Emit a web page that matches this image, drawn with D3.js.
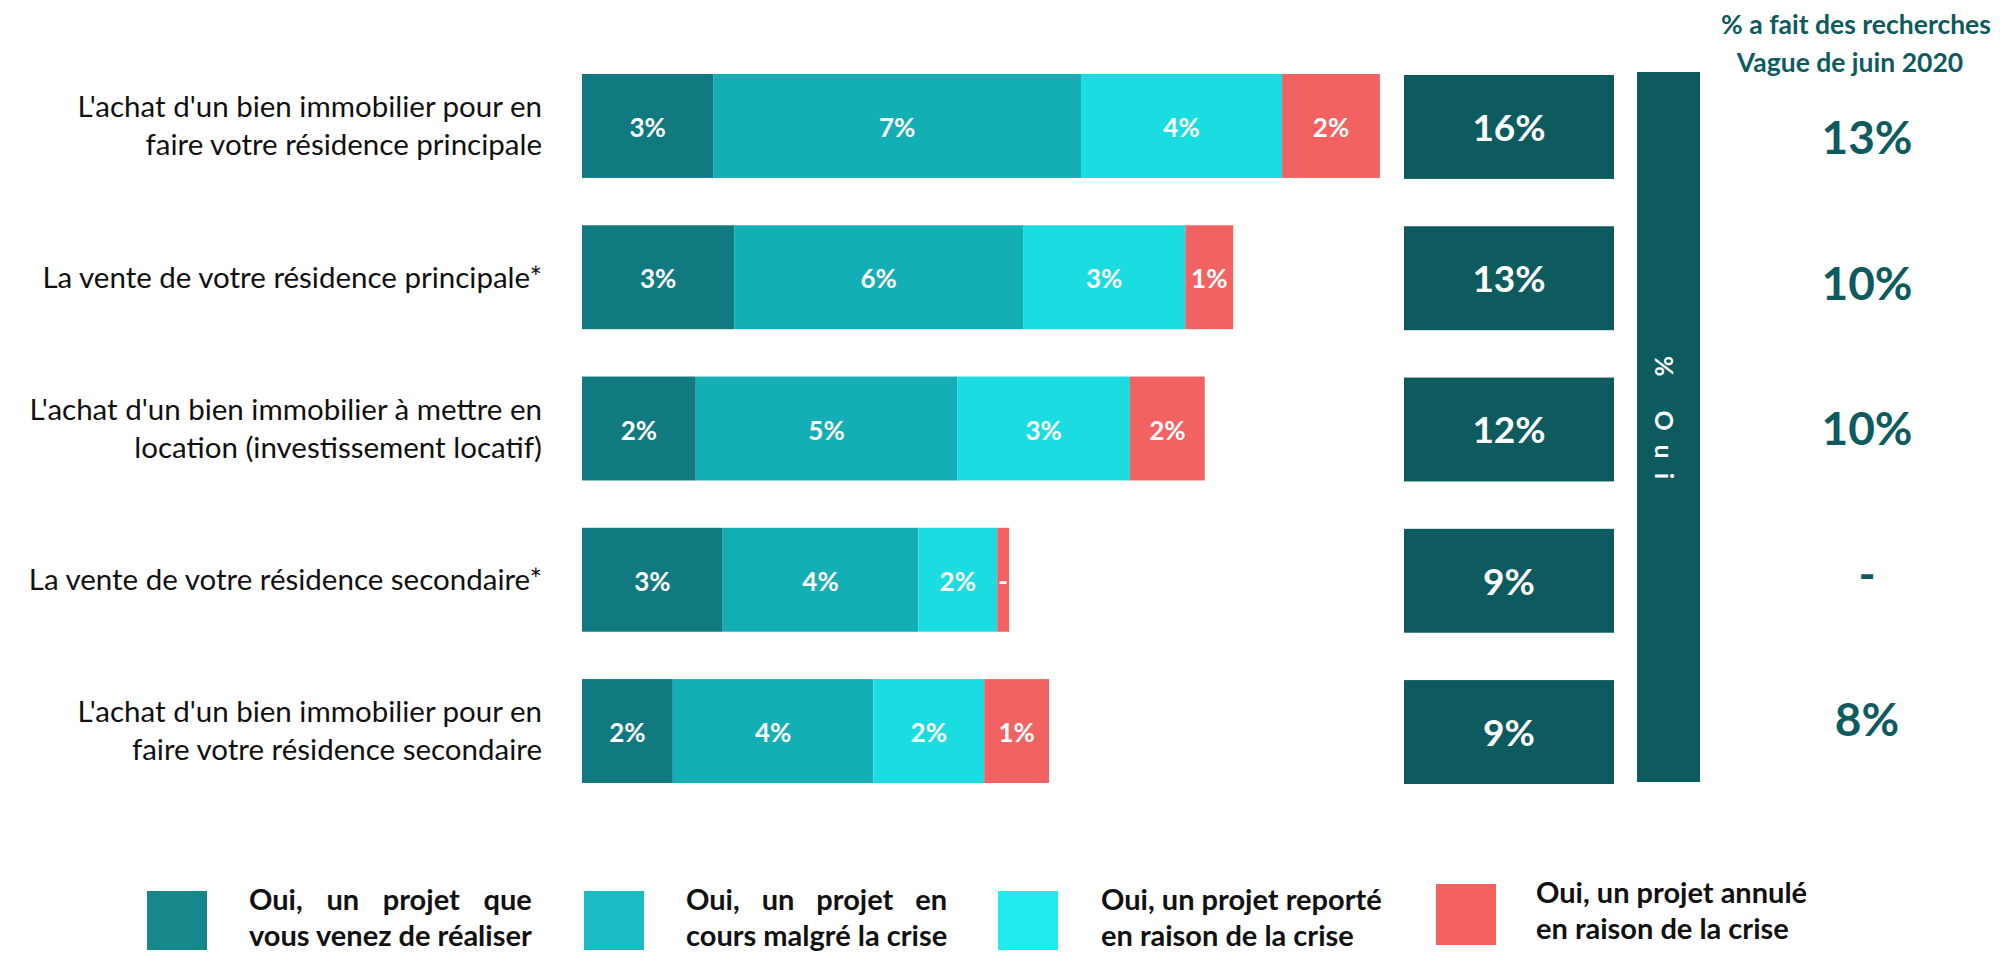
<html>
<head>
    <meta charset="utf-8">
    <style>
        body { margin: 0; background: #fff; }
        svg { display: block; font-family: Lato, "Open Sans", sans-serif; }
    </style>
    <script src="https://d3js.org/d3.v7.min.js"></script>
</head>
<body>
<svg id="chart"></svg>
<script>
    // --- data ---
    var categories = [
        "L'achat d'un bien immobilier pour en\nfaire votre résidence principale",
        "La vente de votre résidence principale*",
        "L'achat d'un bien immobilier à mettre en\nlocation (investissement locatif)",
        "La vente de votre résidence secondaire*",
        "L'achat d'un bien immobilier pour en\nfaire votre résidence secondaire"
    ];
    var seriesNames = [
        "Oui, un projet que\nvous venez de réaliser",
        "Oui, un projet en\ncours malgré la crise",
        "Oui, un projet reporté\nen raison de la crise",
        "Oui, un projet annulé\nen raison de la crise"
    ];
    var realise = [2.63, 3.05, 2.28, 2.82, 1.82];
    var enCours = [7.37, 5.79, 5.24, 3.92, 4.02];
    var reporte = [4.03, 3.25, 3.46, 1.58, 2.22];
    var annule  = [1.96, 0.96, 1.50, 0.24, 1.30];
    var totals  = [16, 13, 12, 9, 9];
    var juin2020 = [13, 10, 10, null, 8];

    var barColors = ["#107a80", "#14aeb5", "#1bdce0", "#f26262"];
    var legendColors = ["#16878a", "#1bbbc4", "#20ecef", "#f26060"];
    var dark = "#0d5b5e";

    var W = 2000, H = 955;
    var svg = d3.select("#chart").attr("width", W).attr("height", H);

    var y = d3.scaleBand()
        .domain(d3.range(categories.length))
        .range([74, 783])
        .paddingInner(0.313)
        .paddingOuter(0);

    var x = d3.scaleLinear()
        .domain([0, 16])
        .range([582, 582 + 16 * 49.9]);

    // stacked data
    var rows = categories.map(function (c, i) {
        return { i: i, realise: realise[i], enCours: enCours[i], reporte: reporte[i], annule: annule[i] };
    });
    var keys = ["realise", "enCours", "reporte", "annule"];
    var stack = d3.stack().keys(keys)(rows);

    // category labels
    var catG = svg.append("g");
    categories.forEach(function (c, i) {
        var lines = c.split("\n");
        var cy = y(i) + y.bandwidth() / 2;
        var t = catG.append("text")
            .attr("x", 542)
            .attr("text-anchor", "end")
            .attr("font-size", 29.5)
            .attr("fill", "#111");
        lines.forEach(function (l, k) {
            t.append("tspan")
                .attr("x", 542)
                .attr("y", cy + (k - (lines.length - 1) / 2) * 38)
                .attr("dy", "0.35em")
                .text(l);
        });
    });

    // bars
    var layers = svg.append("g").selectAll("g")
        .data(stack)
        .join("g")
        .attr("fill", function (d, k) { return barColors[k]; });

    layers.selectAll("rect")
        .data(function (d) { return d; })
        .join("rect")
        .attr("x", function (d) { return x(d[0]); })
        .attr("y", function (d) { return y(d.data.i); })
        .attr("width", function (d) { return x(d[1]) - x(d[0]); })
        .attr("height", y.bandwidth());

    layers.selectAll("text")
        .data(function (d) { return d; })
        .join("text")
        .attr("x", function (d) { return (x(d[0]) + x(d[1])) / 2; })
        .attr("y", function (d) { return y(d.data.i) + y.bandwidth() / 2 + 2; })
        .attr("dy", "0.35em")
        .attr("text-anchor", "middle")
        .attr("font-size", 26)
        .attr("font-weight", "bold")
        .attr("fill", "#fff")
        .text(function (d) {
            var v = Math.round(d[1] - d[0]);
            return v < 1 ? "-" : v + "%";
        });

    // totals boxes
    var tot = svg.append("g");
    tot.selectAll("rect")
        .data(totals)
        .join("rect")
        .attr("x", 1404)
        .attr("y", function (d, i) { return y(i) + 1; })
        .attr("width", 210)
        .attr("height", y.bandwidth())
        .attr("fill", dark);
    tot.selectAll("text")
        .data(totals)
        .join("text")
        .attr("x", 1509)
        .attr("y", function (d, i) { return y(i) + y.bandwidth() / 2 + 2; })
        .attr("dy", "0.35em")
        .attr("text-anchor", "middle")
        .attr("font-size", 37)
        .attr("font-weight", "bold")
        .attr("fill", "#fff")
        .text(function (d) { return d + "%"; });

    // vertical "% Oui" bar
    svg.append("rect")
        .attr("x", 1637)
        .attr("y", y.range()[0] - 2)
        .attr("width", 63)
        .attr("height", y.range()[1] - y.range()[0] + 1)
        .attr("fill", dark);
    svg.append("text")
        .attr("transform", "translate(1664," + ((y.range()[0] + y.range()[1]) / 2 - 4) + ") rotate(90)")
        .attr("text-anchor", "middle")
        .attr("dy", "0.35em")
        .attr("font-size", 25)
        .attr("font-weight", "bold")
        .attr("letter-spacing", 14)
        .attr("fill", "#fff")
        .text("%  Oui");

    // right column: previous wave
    var yr = d3.scalePoint()
        .domain(d3.range(juin2020.length))
        .range([138, 720]);

    var head = svg.append("text")
        .attr("text-anchor", "middle")
        .attr("font-size", 26.5)
        .attr("font-weight", "bold")
        .attr("fill", dark);
    head.append("tspan").attr("x", 1856).attr("y", 25).attr("dy", "0.35em").text("% a fait des recherches");
    head.append("tspan").attr("x", 1850).attr("y", 63).attr("dy", "0.35em").text("Vague de juin 2020");

    svg.append("g").selectAll("text")
        .data(juin2020)
        .join("text")
        .attr("x", 1867)
        .attr("y", function (d, i) { return yr(i); })
        .attr("dy", "0.35em")
        .attr("text-anchor", "middle")
        .attr("font-size", 46)
        .attr("font-weight", "bold")
        .attr("fill", dark)
        .text(function (d) { return d == null ? "-" : d + "%"; });

    // legend
    var legX = [147, 584, 998, 1436];
    var legTextX = [249, 686, 1101, 1536];
    var legTop = [891, 891, 891, 884];
    var justify = [true, true, false, false];

    var leg = svg.append("g");
    seriesNames.forEach(function (name, k) {
        leg.append("rect")
            .attr("x", legX[k])
            .attr("y", legTop[k])
            .attr("width", 60)
            .attr("height", legTop[k] === 884 ? 61 : 59)
            .attr("fill", legendColors[k]);

        var lines = name.split("\n");
        var y1 = legTop[k] + 9, y2 = legTop[k] + 45;
        var g = leg.append("g")
            .attr("font-size", 29)
            .attr("font-weight", "bold")
            .attr("fill", "#111");

        var second = g.append("text")
            .attr("x", legTextX[k])
            .attr("y", y2)
            .attr("dy", "0.35em")
            .text(lines[1]);

        if (!justify[k]) {
            g.append("text")
                .attr("x", legTextX[k])
                .attr("y", y1)
                .attr("dy", "0.35em")
                .text(lines[0]);
        } else {
            // justified first line: spread words over the width of the second line
            var width = second.node().getComputedTextLength();
            var words = lines[0].split(" ");
            var nodes = words.map(function (w) {
                return g.append("text").attr("y", y1).attr("dy", "0.35em").text(w);
            });
            var used = d3.sum(nodes, function (n) { return n.node().getComputedTextLength(); });
            var gap = (width - used) / (words.length - 1);
            var cx = legTextX[k];
            nodes.forEach(function (n) {
                n.attr("x", cx);
                cx += n.node().getComputedTextLength() + gap;
            });
        }
    });
</script>
</body>
</html>
